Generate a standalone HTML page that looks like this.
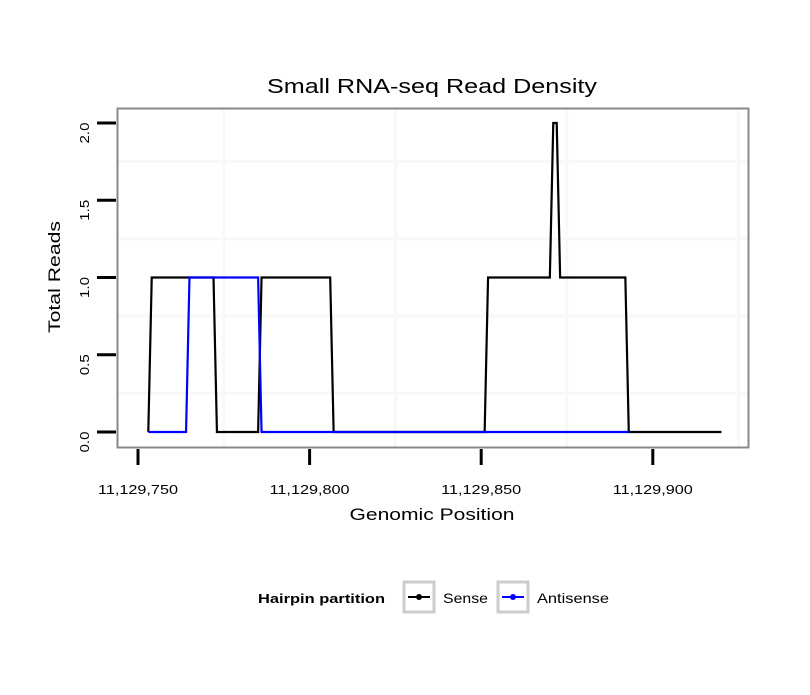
<!DOCTYPE html>
<html><head><meta charset="utf-8"><style>
body{margin:0;background:#fff;}
svg text{font-family:"Liberation Sans",Arial,sans-serif;}
</style></head><body>
<svg id="chart" width="810" height="690">
<rect width="810" height="690" fill="#fff"/>
<text x="432" y="93" font-size="20" text-anchor="middle" textLength="330" lengthAdjust="spacingAndGlyphs">Small RNA-seq Read Density</text>
<g id="grid"></g>
<g id="series"></g>
<rect x="117.5" y="108.5" width="631" height="339" fill="none" stroke="#888" stroke-width="2"/>
<g id="axes"></g>
<text x="432" y="520" font-size="17" text-anchor="middle" textLength="165" lengthAdjust="spacingAndGlyphs">Genomic Position</text>
<text transform="translate(60,277) rotate(-90)" font-size="17" text-anchor="middle" textLength="112" lengthAdjust="spacingAndGlyphs">Total Reads</text>
<g>
<text x="258" y="603" font-size="13" font-weight="bold" textLength="127" lengthAdjust="spacingAndGlyphs">Hairpin partition</text>
<g>
<rect x="404" y="582" width="30" height="30" fill="#fff" stroke="#ccc" stroke-width="3"/>
<line x1="408" y1="597" x2="430" y2="597" stroke="#000" stroke-width="2"/>
<circle cx="419" cy="597" r="3" fill="#000"/>
<text x="443" y="603" font-size="14" textLength="45" lengthAdjust="spacingAndGlyphs">Sense</text>
</g>
<g>
<rect x="498" y="582" width="30" height="30" fill="#fff" stroke="#ccc" stroke-width="3"/>
<line x1="502" y1="597" x2="524" y2="597" stroke="#00f" stroke-width="2"/>
<circle cx="513" cy="597" r="3" fill="#00f"/>
<text x="537" y="603" font-size="14" textLength="72" lengthAdjust="spacingAndGlyphs">Antisense</text>
</g>
</g>
</svg>
<script>
const senseX=[753,754,772,773,785,786,806,807,851,852,870,871,872,873,892,893,920];
const senseY=[0,1,1,0,0,1,1,0,0,1,1,2,2,1,1,0,0];
const antiX=[753,764,765,785,786,893];
const antiY=[0,0,1,1,0,0];
const xTicks=[750,800,850,900];
const xTickLabels=["11,129,750","11,129,800","11,129,850","11,129,900"];
const yTicks=[0,0.5,1,1.5,2];
const yTickLabels=["0.0","0.5","1.0","1.5","2.0"];
const xMinor=[775,825,875,925];
const yMinor=[0.25,0.75,1.25,1.75];

const NS="http://www.w3.org/2000/svg";
function sx(v){return 138+(v-750)*171.6/50;}
function sy(v){return 432-v*154.5;}
function mk(t,a,p){const e=document.createElementNS(NS,t);for(const k in a)e.setAttribute(k,a[k]);p.appendChild(e);return e;}
const grid=document.getElementById('grid'),series=document.getElementById('series'),axes=document.getElementById('axes');
xMinor.forEach(v=>{const l=mk('line',{x1:sx(v),x2:sx(v),y1:109,y2:447,stroke:'#f8f8f8','stroke-width':3},grid);

});
yMinor.forEach(v=>{const l=mk('line',{x1:118,x2:748,y1:sy(v),y2:sy(v),stroke:'#f8f8f8','stroke-width':3},grid);

});
function line(xs,ys,c,name){const p=mk('polyline',{points:xs.map((x,i)=>sx(x)+','+sy(ys[i])).join(' '),fill:'none',stroke:c,'stroke-width':2.2},series);

}
line(senseX,senseY,'#000','sense-line');
line(antiX,antiY,'#00f','antisense-line');
xTicks.forEach((v,i)=>{const l=mk('line',{x1:sx(v),x2:sx(v),y1:449,y2:465,stroke:'#000','stroke-width':3},axes);


const t=mk('text',{x:sx(v),y:494,'font-size':13,'text-anchor':'middle',textLength:80,lengthAdjust:'spacingAndGlyphs'},axes);t.textContent=xTickLabels[i];

});
yTicks.forEach((v,i)=>{const l=mk('line',{x1:97,x2:116,y1:sy(v),y2:sy(v),stroke:'#000','stroke-width':3},axes);


const t=mk('text',{transform:'translate(89,'+(sy(v)+10)+') rotate(-90)','font-size':13,'text-anchor':'middle',textLength:21,lengthAdjust:'spacingAndGlyphs'},axes);t.textContent=yTickLabels[i];

});
</script>
</body></html>
